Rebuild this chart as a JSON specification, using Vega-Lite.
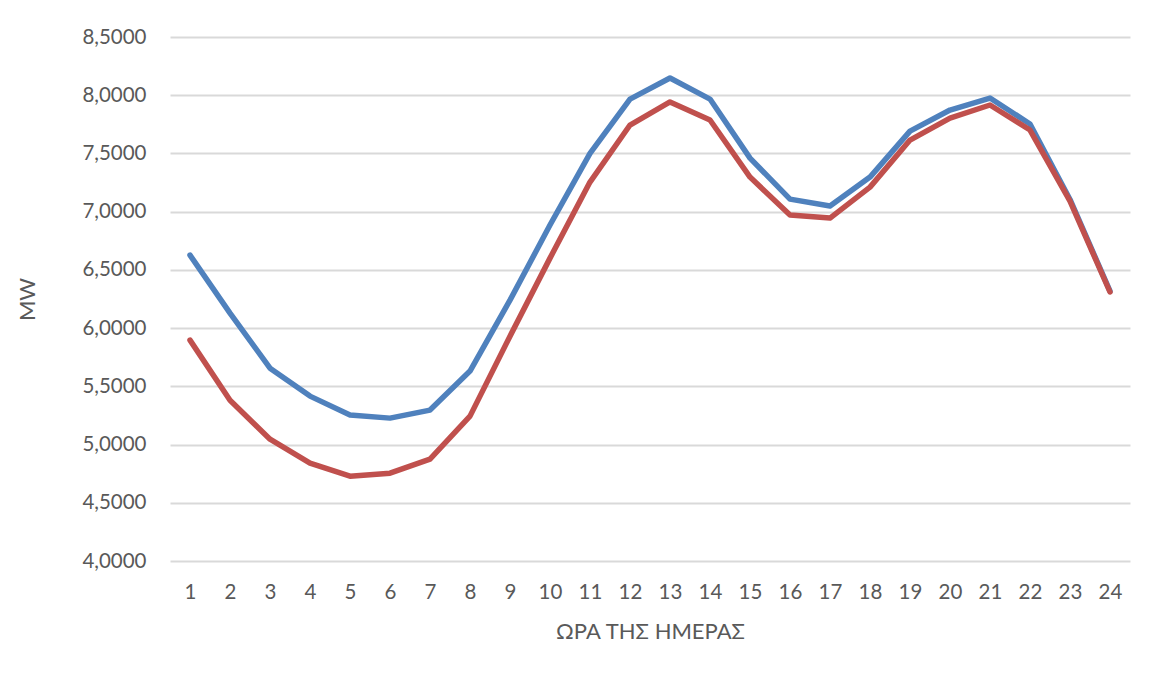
{
  "$schema": "https://vega.github.io/schema/vega-lite/v6.json",
  "width": 960,
  "height": 524,
  "autosize": {"type": "none"},
  "padding": {"left": 170, "top": 37, "right": 22, "bottom": 112},
  "background": "white",
  "config": {
    "view": {"stroke": null},
    "font": "Lato",
    "axis": {
      "labelFont": "Lato",
      "titleFont": "Lato",
      "labelColor": "#595959",
      "titleColor": "#595959",
      "labelFontSize": 20.5,
      "titleFontSize": 22,
      "titleFontWeight": "normal",
      "gridColor": "#d9d9d9",
      "gridWidth": 2,
      "ticks": false,
      "domain": false
    }
  },
  "data": {
    "values": [
      {"hour": 1, "series": "Σειρά1", "mw": 6.627},
      {"hour": 2, "series": "Σειρά1", "mw": 6.129},
      {"hour": 3, "series": "Σειρά1", "mw": 5.656},
      {"hour": 4, "series": "Σειρά1", "mw": 5.416},
      {"hour": 5, "series": "Σειρά1", "mw": 5.253},
      {"hour": 6, "series": "Σειρά1", "mw": 5.227},
      {"hour": 7, "series": "Σειρά1", "mw": 5.296},
      {"hour": 8, "series": "Σειρά1", "mw": 5.631},
      {"hour": 9, "series": "Σειρά1", "mw": 6.240},
      {"hour": 10, "series": "Σειρά1", "mw": 6.885},
      {"hour": 11, "series": "Σειρά1", "mw": 7.500},
      {"hour": 12, "series": "Σειρά1", "mw": 7.967},
      {"hour": 13, "series": "Σειρά1", "mw": 8.148},
      {"hour": 14, "series": "Σειρά1", "mw": 7.967},
      {"hour": 15, "series": "Σειρά1", "mw": 7.460},
      {"hour": 16, "series": "Σειρά1", "mw": 7.108},
      {"hour": 17, "series": "Σειρά1", "mw": 7.048},
      {"hour": 18, "series": "Σειρά1", "mw": 7.297},
      {"hour": 19, "series": "Σειρά1", "mw": 7.692},
      {"hour": 20, "series": "Σειρά1", "mw": 7.873},
      {"hour": 21, "series": "Σειρά1", "mw": 7.976},
      {"hour": 22, "series": "Σειρά1", "mw": 7.753},
      {"hour": 23, "series": "Σειρά1", "mw": 7.105},
      {"hour": 24, "series": "Σειρά1", "mw": 6.318},
      {"hour": 1, "series": "Σειρά2", "mw": 5.897},
      {"hour": 2, "series": "Σειρά2", "mw": 5.381},
      {"hour": 3, "series": "Σειρά2", "mw": 5.046},
      {"hour": 4, "series": "Σειρά2", "mw": 4.840},
      {"hour": 5, "series": "Σειρά2", "mw": 4.728},
      {"hour": 6, "series": "Σειρά2", "mw": 4.754},
      {"hour": 7, "series": "Σειρά2", "mw": 4.875},
      {"hour": 8, "series": "Σειρά2", "mw": 5.244},
      {"hour": 9, "series": "Σειρά2", "mw": 5.931},
      {"hour": 10, "series": "Σειρά2", "mw": 6.601},
      {"hour": 11, "series": "Σειρά2", "mw": 7.254},
      {"hour": 12, "series": "Σειρά2", "mw": 7.744},
      {"hour": 13, "series": "Σειρά2", "mw": 7.942},
      {"hour": 14, "series": "Σειρά2", "mw": 7.787},
      {"hour": 15, "series": "Σειρά2", "mw": 7.297},
      {"hour": 16, "series": "Σειρά2", "mw": 6.971},
      {"hour": 17, "series": "Σειρά2", "mw": 6.945},
      {"hour": 18, "series": "Σειρά2", "mw": 7.211},
      {"hour": 19, "series": "Σειρά2", "mw": 7.615},
      {"hour": 20, "series": "Σειρά2", "mw": 7.804},
      {"hour": 21, "series": "Σειρά2", "mw": 7.916},
      {"hour": 22, "series": "Σειρά2", "mw": 7.701},
      {"hour": 23, "series": "Σειρά2", "mw": 7.090},
      {"hour": 24, "series": "Σειρά2", "mw": 6.310}
    ]
  },
  "mark": {"type": "line", "strokeWidth": 5.5, "strokeCap": "round", "strokeJoin": "round"},
  "encoding": {
    "x": {
      "field": "hour",
      "type": "ordinal",
      "scale": {"type": "point", "padding": 0.5},
      "axis": {
        "title": "ΩΡΑ ΤΗΣ ΗΜΕΡΑΣ",
        "labelAngle": 0,
        "labelPadding": 21,
        "titlePadding": 19,
        "grid": false
      }
    },
    "y": {
      "field": "mw",
      "type": "quantitative",
      "scale": {"domain": [4, 8.5], "nice": false, "zero": false},
      "axis": {
        "title": "MW",
        "values": [4, 4.5, 5, 5.5, 6, 6.5, 7, 7.5, 8, 8.5],
        "labelExpr": "replace(format(datum.value, '.4f'), '.', ',')",
        "labelPadding": 24,
        "titlePadding": 42,
        "grid": true
      }
    },
    "color": {
      "field": "series",
      "type": "nominal",
      "scale": {"domain": ["Σειρά1", "Σειρά2"], "range": ["#4f81bd", "#c0504d"]},
      "legend": null
    }
  }
}
